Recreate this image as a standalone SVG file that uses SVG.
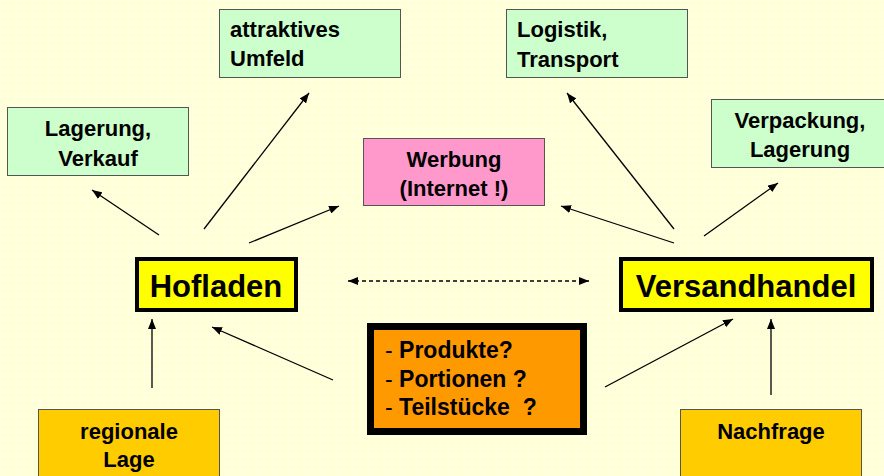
<svg xmlns="http://www.w3.org/2000/svg" width="884" height="476" viewBox="0 0 884 476">
<defs>
<pattern id="grid" width="8" height="8" patternUnits="userSpaceOnUse">
<rect width="8" height="8" fill="#FFFFD8"/>
<path d="M0 0.5H8M0.5 0V8" stroke="#FFFFE4" stroke-width="1"/>
</pattern>
<marker id="ah" viewBox="0 0 10 8" refX="10" refY="4" markerWidth="10" markerHeight="8" markerUnits="userSpaceOnUse" orient="auto-start-reverse">
<path d="M0 0L10 4L0 8Z" fill="#000"/>
</marker>
<style>
text{font-family:"Liberation Sans",Arial,sans-serif;font-weight:bold;fill:#000}
.t{font-size:22px}
.m{font-size:23px}
.c{text-anchor:middle}
.green{fill:#CCFFCC;stroke:#555;stroke-width:1}
.pink{fill:#FF99CC;stroke:#555;stroke-width:1}
.gold{fill:#FFCC00;stroke:#555;stroke-width:1}
.main{fill:#FFFF00;stroke:#000;stroke-width:4}
.big{font-size:31px}
.con{stroke:#000;stroke-width:1.3;fill:none;marker-end:url(#ah)}
</style>
</defs>
<rect width="884" height="476" fill="url(#grid)"/>

<g id="lagerung-verkauf">
<rect class="green" x="7.5" y="107.5" width="181" height="68"/>
<text class="t c" x="98" y="136">Lagerung,</text>
<text class="t c" x="98" y="166">Verkauf</text>
</g>
<g id="attraktives-umfeld">
<rect class="green" x="219.5" y="9.5" width="181" height="68"/>
<text class="t" x="230" y="37">attraktives</text>
<text class="t" x="230" y="66">Umfeld</text>
</g>
<g id="werbung">
<rect class="pink" x="363.5" y="138.5" width="181" height="67"/>
<text class="t c" x="454" y="167">Werbung</text>
<text class="t c" x="454" y="196">(Internet !)</text>
</g>
<g id="logistik">
<rect class="green" x="506.5" y="9.5" width="181" height="68"/>
<text class="t" x="517" y="37">Logistik,</text>
<text class="t" x="517" y="67">Transport</text>
</g>
<g id="verpackung">
<rect class="green" x="711.5" y="99.5" width="180" height="68"/>
<text class="t c" x="800" y="128">Verpackung,</text>
<text class="t c" x="800" y="157">Lagerung</text>
</g>
<g id="hofladen">
<rect class="main" x="137" y="259" width="159" height="51"/>
<text class="big c" x="216" y="297">Hofladen</text>
</g>
<g id="versandhandel">
<rect class="main" x="621" y="259" width="251" height="51"/>
<text class="big c" x="746" y="297">Versandhandel</text>
</g>
<g id="produkte">
<rect x="370.5" y="326.5" width="213" height="105" fill="#FF9900" stroke="#000" stroke-width="7"/>
<text class="m" x="385" y="358"><tspan font-weight="normal">- </tspan>Produkte?</text>
<text class="m" x="385" y="387"><tspan font-weight="normal">- </tspan>Portionen ?</text>
<text class="m" x="385" y="415" xml:space="preserve"><tspan font-weight="normal">- </tspan>Teilstücke  ?</text>
</g>
<g id="regionale-lage">
<rect class="gold" x="38.5" y="409.5" width="181" height="75"/>
<text class="t c" x="129" y="439">regionale</text>
<text class="t c" x="129" y="467">Lage</text>
</g>
<g id="nachfrage">
<rect class="gold" x="680.5" y="409.5" width="181" height="75"/>
<text class="t c" x="771" y="439">Nachfrage</text>
</g>

<g id="connectors">
<line class="con" x1="159" y1="235" x2="92" y2="190"/>
<line class="con" x1="204" y1="229" x2="309" y2="93"/>
<line class="con" x1="249" y1="243" x2="339" y2="206"/>
<line class="con" x1="674" y1="229" x2="567" y2="93"/>
<line class="con" x1="674" y1="243" x2="561" y2="206"/>
<line class="con" x1="704" y1="236" x2="778" y2="183"/>
<line class="con" x1="348" y1="281" x2="589" y2="281" stroke-dasharray="4 3" marker-start="url(#ah)"/>
<line class="con" x1="152" y1="388" x2="152" y2="319"/>
<line class="con" x1="333" y1="380" x2="212" y2="327"/>
<line class="con" x1="605" y1="387" x2="733" y2="319"/>
<line class="con" x1="771" y1="395" x2="771" y2="319"/>
</g>
</svg>
